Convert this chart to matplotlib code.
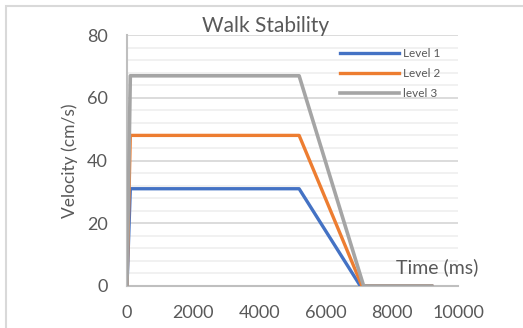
import matplotlib.pyplot as plt
from matplotlib.patches import Rectangle
from matplotlib.ticker import MultipleLocator

# Data
level1_t = [0, 100, 5200, 7050, 9200]
level1_v = [0, 31, 31, 0, 0]
level2_t = [0, 100, 5200, 7100, 9200]
level2_v = [0, 48, 48, 0, 0]
level3_t = [0, 100, 5200, 7150, 9200]
level3_v = [0, 67, 67, 0, 0]
labels = ['Level 1', 'Level 2', 'level 3']
colors = ['#4472c4', '#ed7d31', '#a5a5a5']

plt.rcParams['font.family'] = ['Lato', 'DejaVu Sans']
grey = '#595959'

fig = plt.figure(figsize=(5.23, 3.28), dpi=100)
fig.patches.append(Rectangle((6 / 523, -0.1), 1.2, 1.1 - 6 / 328,
                             transform=fig.transFigure, fill=False,
                             edgecolor='#d9d9d9', lw=1.5))
ax = fig.add_axes([127 / 523, 1 - 286 / 328, 331 / 523, 251 / 328])

ax.plot(level1_t, level1_v, color=colors[0], lw=2.4, label=labels[0], zorder=3)
ax.plot(level2_t, level2_v, color=colors[1], lw=2.4, label=labels[1], zorder=3)
ax.plot(level3_t, level3_v, color=colors[2], lw=2.6, label=labels[2], zorder=3)

ax.set_xlim(0, 10000)
ax.set_ylim(0, 80)
ax.xaxis.set_major_locator(MultipleLocator(2000))
ax.yaxis.set_major_locator(MultipleLocator(20))
ax.yaxis.set_minor_locator(MultipleLocator(4))
ax.grid(axis='y', which='major', color='#d9d9d9', lw=1.3, zorder=0)
ax.grid(axis='y', which='minor', color='#f0f0f0', lw=1.3, zorder=0)
ax.tick_params(which='both', length=0)
ax.tick_params(axis='x', pad=14, labelsize=13, labelcolor=grey)
ax.tick_params(axis='y', pad=14, labelsize=13, labelcolor=grey)
for s in ['top', 'right']:
    ax.spines[s].set_visible(False)
ax.spines['left'].set_color('#bfbfbf')
ax.spines['left'].set_lw(1.5)
ax.spines['bottom'].set_color('#bfbfbf')
ax.spines['bottom'].set_lw(1.5)

ax.set_ylabel('Velocity (cm/s)', fontsize=12.5, color=grey, labelpad=6)
fig.text(266 / 523, 1 - 26 / 328, 'Walk Stability', ha='center', va='center',
         fontsize=15, color=grey)
ax.text(9360, 6, 'Time (ms)', ha='center', va='center', fontsize=14,
        color=grey)

leg = ax.legend(loc='upper left', bbox_to_anchor=(0.61, 0.99), frameon=False,
                fontsize=8.5, handlelength=5.0, labelspacing=0.75,
                handletextpad=0.4)
for t in leg.get_texts():
    t.set_color(grey)

fig.savefig('out.png', dpi=100)
